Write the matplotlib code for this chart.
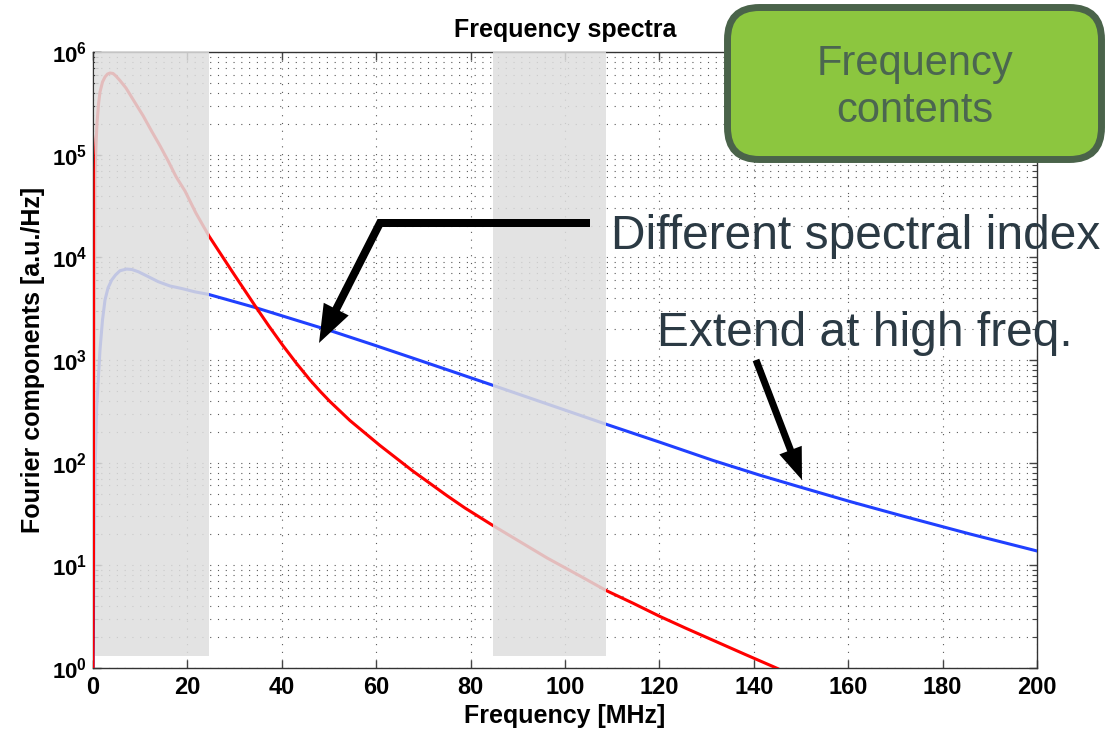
import numpy as np
import matplotlib.pyplot as plt
from matplotlib.lines import Line2D
from matplotlib.patches import Polygon, Rectangle, FancyBboxPatch
from matplotlib.transforms import IdentityTransform
from matplotlib.ticker import FixedLocator, FixedFormatter, LogLocator, NullFormatter

plt.rcParams['font.family'] = ['Liberation Sans', 'DejaVu Sans']
plt.rcParams['mathtext.fontset'] = 'custom'
plt.rcParams['mathtext.rm'] = 'Liberation Sans'
plt.rcParams['mathtext.bf'] = 'Liberation Sans:bold'

# Spektren, x in MHz
red_x = [0.0, 0.42, 0.64, 0.85, 1.17, 1.48, 2.01, 2.54, 3.07, 3.6, 4.24, 4.87, 5.72,
         6.99, 8.9, 10.6, 12.5, 14.2, 15.9, 17.6, 19.5, 21.8, 24.58, 29.45, 34.32,
         37.3, 40.25, 43.1, 45.97, 48.1, 50.2, 54.45, 60.8, 67.8, 75.0, 78.8, 84.75,
         96.2, 103.2, 108.7, 114.4, 120.1, 125.6, 131.4, 138.1, 145.0, 150.0]
red_y = [1.0, 6.6e4, 1.24e5, 2.03e5, 3.11e5, 4.07e5, 5.10e5, 5.71e5, 6.1e5, 6.24e5,
         6.18e5, 5.83e5, 5.27e5, 4.46e5, 3.21e5, 2.40e5, 1.67e5, 1.22e5, 8.73e4,
         6.1e4, 4.42e4, 2.70e4, 1.61e4, 7.32e3, 3.38e3, 2.13e3, 1.38e3, 929, 639,
         497, 394, 257, 147, 82.6, 47.7, 36.2, 24.4, 11.8, 7.87, 5.69, 4.28, 3.18,
         2.44, 1.86, 1.36, 0.99, 0.75]

blue_x = [0.0, 0.45, 0.78, 1.48, 2.01, 2.54, 3.18, 3.96, 4.77, 5.72, 7.14, 8.26, 9.6,
          11.44, 13.83, 16.3, 18.8, 21.6, 24.43, 34.32, 42.58, 50.91, 59.32, 67.86,
          76.27, 84.81, 96.82, 108.69, 120.13, 131.4, 141.3, 149.8, 160.4, 171.0,
          185.8, 200.0]
blue_y = [1.0, 90, 351, 1.25e3, 2.45e3, 3.84e3, 5.03e3, 6.01e3, 6.73e3, 7.41e3,
          7.69e3, 7.61e3, 7.24e3, 6.58e3, 5.79e3, 5.26e3, 4.97e3, 4.61e3, 4.36e3,
          3.25e3, 2.48e3, 1.89e3, 1.41e3, 1.04e3, 769, 565, 365, 237, 158, 105,
          75.5, 57.9, 41.8, 30.7, 20.2, 13.8]

# graue Bereiche
bands = [(0.5, 24.5), (84.7, 108.7)]
band_bottom = 1.3

x_ticks = [0, 20, 40, 60, 80, 100, 120, 140, 160, 180, 200]
y_ticks = [1e0, 1e1, 1e2, 1e3, 1e4, 1e5, 1e6]
y_labels = [r'$\mathbf{10^{%d}}$' % i for i in range(7)]

W, H = 1115, 729
fig = plt.figure(figsize=(W / 100, H / 100), dpi=100)
ax = fig.add_axes([93 / W, 1 - 668 / H, (1037 - 93) / W, (668 - 52) / H])

ax.plot(blue_x, blue_y, color='#2040ff', lw=2.2, zorder=3)
ax.plot(red_x, red_y, color='#ff0000', lw=2.2, zorder=4)

for x0, x1 in bands:
    ax.add_patch(Rectangle((x0, band_bottom), x1 - x0, 1e6 - band_bottom,
                           facecolor='#dedede', edgecolor='none', alpha=0.85, zorder=5))

ax.set_yscale('log')
ax.set_xlim(0, 200)
ax.set_ylim(1, 1e6)
ax.xaxis.set_major_locator(FixedLocator(x_ticks))
ax.yaxis.set_major_locator(FixedLocator(y_ticks))
ax.yaxis.set_major_formatter(FixedFormatter(y_labels))
ax.yaxis.set_minor_locator(LogLocator(base=10, subs=range(2, 10)))
ax.yaxis.set_minor_formatter(NullFormatter())

# Gitter
ax.grid(True, which='major', axis='x', color='0.35', lw=0.8, linestyle=(0, (1, 6)), zorder=1)
ax.grid(True, which='both', axis='y', color='0.35', lw=0.8, linestyle=(0, (1, 6)), zorder=1)
ax.set_axisbelow(True)

ax.tick_params(which='both', direction='in', top=True, right=True, color='#444444')
ax.tick_params(which='major', length=6, width=1)
ax.tick_params(which='minor', length=3.5, width=0.8)
ax.tick_params(axis='x', labelsize=17, pad=6)
ax.tick_params(axis='y', labelsize=16, pad=4)
for lab in ax.get_xticklabels():
    lab.set_fontweight('bold')
for sp in ax.spines.values():
    sp.set_color('#333333')
    sp.set_linewidth(1)

ax.set_title('Frequency spectra', fontsize=18, fontweight='bold', pad=11)
ax.set_xlabel('Frequency [MHz]', fontsize=18, fontweight='bold', labelpad=3)
ax.set_ylabel('Fourier components [a.u./Hz]', fontsize=18, fontweight='bold', labelpad=5)

# Anmerkungen in Bildpixeln (y von oben)
ident = IdentityTransform()


def P(x, y):
    return x, H - y


def pfeil(punkte, breite, kopf_l, kopf_b):
    pts = np.array([P(*p) for p in punkte], dtype=float)
    tip = pts[-1]
    u = tip - pts[-2]
    u = u / np.linalg.norm(u)
    n = np.array([-u[1], u[0]])
    base = tip - u * kopf_l
    linie = np.vstack([pts[:-1], base + u * 2])
    fig.add_artist(Line2D(linie[:, 0], linie[:, 1], transform=ident, color='black',
                          lw=breite * 0.72, solid_joinstyle='miter', solid_capstyle='butt'))
    fig.add_artist(Polygon([tip, base + n * kopf_b / 2, base - n * kopf_b / 2],
                           closed=True, transform=ident, facecolor='black', edgecolor='none'))


pfeil([(590, 223), (380, 223), (319, 343)], 8, 38, 28)
pfeil([(756, 360), (802, 480)], 7, 32, 24)

txt_col = '#2b3a44'
fig.text(*P(611, 249), 'Different spectral index', transform=ident, fontsize=34.5,
         color=txt_col, ha='left', va='baseline')
fig.text(*P(657, 346), 'Extend at high freq.', transform=ident, fontsize=34.5,
         color=txt_col, ha='left', va='baseline')

box = FancyBboxPatch(P(727.5, 159.5), 374, 152, boxstyle='round,pad=0,rounding_size=32',
                     transform=ident, facecolor='#8cc63f', edgecolor='#4a634a', lw=5)
fig.add_artist(box)
fig.text(*P(915, 75), 'Frequency', transform=ident, fontsize=30, color='#4b6650',
         ha='center', va='baseline')
fig.text(*P(915, 122), 'contents', transform=ident, fontsize=30, color='#4b6650',
         ha='center', va='baseline')

fig.savefig('out.png', dpi=100)
